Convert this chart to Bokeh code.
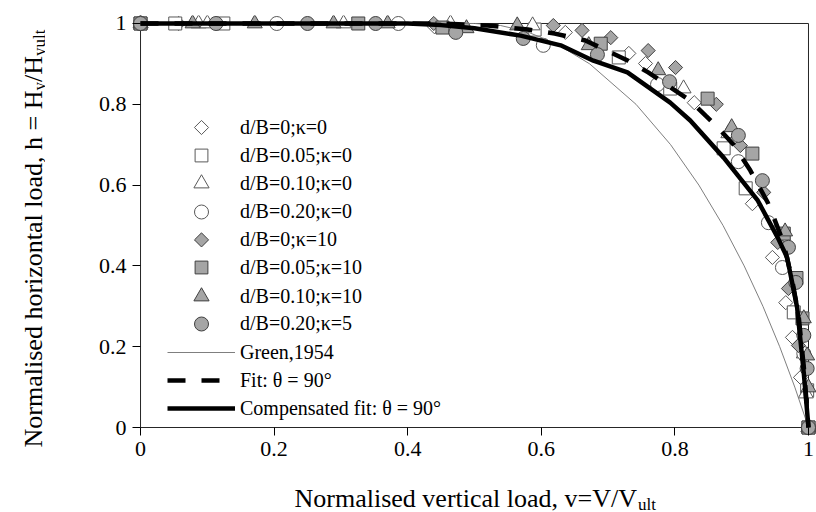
import math
from bokeh.plotting import figure
from bokeh.models import Range1d, FixedTicker, Label, Legend, LegendItem
from bokeh.layouts import row, column
from bokeh.embed import file_html
from bokeh.resources import INLINE

# ---------------- data ----------------
tick_values = [0.0, 0.2, 0.4, 0.6, 0.8, 1.0]
tick_labels = ["0", "0.2", "0.4", "0.6", "0.8", "1"]

series_names = ["d/B=0;\u03ba=0", "d/B=0.05;\u03ba=0", "d/B=0.10;\u03ba=0", "d/B=0.20;\u03ba=0",
                "d/B=0;\u03ba=10", "d/B=0.05;\u03ba=10", "d/B=0.10;\u03ba=10", "d/B=0.20;\u03ba=5"]
line_names = ["Green,1954", "Fit: \u03b8 = 90\u00b0", "Compensated fit: \u03b8 = 90\u00b0"]

v_db0_k0 = [0.0, 0.057, 0.44, 0.636, 0.731, 0.756, 0.829, 0.916, 0.946, 0.966, 0.976, 0.988, 1.0]
h_db0_k0 = [1.0, 1.0, 0.992, 0.978, 0.926, 0.901, 0.804, 0.554, 0.421, 0.309, 0.223, 0.124, 0.0]

v_db005_k0 = [0.0, 0.052, 0.124, 0.59, 0.716, 0.793, 0.873, 0.906, 0.978, 0.998, 1.0]
h_db005_k0 = [1.0, 1.0, 1.0, 0.985, 0.916, 0.839, 0.691, 0.592, 0.285, 0.092, 0.0]

v_db010_k0 = [0.0, 0.087, 0.10, 0.304, 0.464, 0.587, 0.813, 0.88, 0.993, 0.996, 1.0]
h_db010_k0 = [1.0, 1.0, 1.0, 1.0, 1.0, 0.995, 0.839, 0.728, 0.183, 0.084, 0.0]

v_db020_k0 = [0.0, 0.204, 0.386, 0.603, 0.774, 0.895, 0.940, 0.961, 0.993, 1.0]
h_db020_k0 = [1.0, 1.0, 1.0, 0.946, 0.849, 0.658, 0.507, 0.396, 0.183, 0.0]

v_db0_k10 = [0.0, 0.439, 0.618, 0.661, 0.704, 0.760, 0.801, 0.862, 0.898, 0.933, 0.954, 0.970, 0.985, 1.0]
h_db0_k10 = [1.0, 1.0, 0.995, 0.983, 0.965, 0.933, 0.891, 0.800, 0.698, 0.582, 0.458, 0.344, 0.203, 0.0]

v_db005_k10 = [0.0, 0.326, 0.452, 0.689, 0.849, 0.916, 0.963, 0.982, 0.991, 1.0]
h_db005_k10 = [1.0, 1.0, 0.99, 0.950, 0.814, 0.678, 0.48, 0.37, 0.27, 0.0]

v_db010_k10 = [0.0, 0.078, 0.171, 0.289, 0.37, 0.488, 0.564, 0.671, 0.775, 0.885, 0.965, 0.993, 0.998, 1.0, 1.0]
h_db010_k10 = [1.0, 1.0, 1.0, 1.0, 1.0, 0.988, 0.995, 0.946, 0.884, 0.743, 0.485, 0.27, 0.178, 0.099, 0.0]

v_db020_k5 = [0.0, 0.113, 0.25, 0.352, 0.472, 0.573, 0.684, 0.792, 0.895, 0.931, 0.970, 0.981, 0.993, 0.998, 1.0]
h_db020_k5 = [1.0, 1.0, 1.0, 1.0, 0.978, 0.963, 0.923, 0.856, 0.723, 0.611, 0.446, 0.359, 0.228, 0.146, 0.0]

green_v = [0.0, 0.5, 0.539, 0.578, 0.6225, 0.6725, 0.7418, 0.7936, 0.8359, 0.8721, 0.9037, 0.9318, 0.9569, 0.9795, 1.0]
green_h = [1.0, 1.0, 0.995, 0.98, 0.95, 0.9, 0.8, 0.7, 0.6, 0.5, 0.4, 0.3, 0.2, 0.1, 0.0]

fit_v = [0.0, 0.45, 0.52, 0.58, 0.62, 0.666, 0.73, 0.76, 0.823, 0.846, 0.861, 0.888, 0.913, 0.939, 0.948, 0.962, 0.975, 0.985, 0.993, 1.0]
fit_h = [1.0, 1.0, 0.995, 0.985, 0.975, 0.958, 0.908, 0.879, 0.809, 0.772, 0.748, 0.70, 0.636, 0.557, 0.52, 0.46, 0.37, 0.28, 0.15, 0.0]

comp_v = [0.0, 0.40, 0.45, 0.50, 0.569, 0.629, 0.678, 0.729, 0.793, 0.823, 0.873, 0.924, 0.954, 0.968, 0.983, 0.993, 1.0]
comp_h = [1.0, 1.0, 0.996, 0.988, 0.97, 0.946, 0.908, 0.879, 0.804, 0.760, 0.668, 0.562, 0.47, 0.421, 0.297, 0.134, 0.0]

# ---------------- layout constants (canvas px) ----------------
FONT = "Liberation Serif"
W, H = 816, 512
YT_W = 45                 # strip holding the y-axis title
XT_H = 42                 # strip holding the x-axis title
PW, PH = W - YT_W, H - XT_H
BL, BR, BT, BB = 132 - YT_W, 0, 15, 35
PAD_X = 0.012
PAD_Y = 0.0198
FRAME_BOTTOM = PH - BB    # 435
FRAME_LEFT = 132
PX_PER_X = (W - FRAME_LEFT) / (1 + 2 * PAD_X)
PX_PER_Y = (FRAME_BOTTOM - BT) / (1 + 2 * PAD_Y)


def no_align(f):
    if "frame_align" in f.properties():
        f.frame_align = False
    return f


p = figure(width=PW, height=PH, output_backend="svg", toolbar_location=None,
           x_range=Range1d(-PAD_X, 1 + PAD_X), y_range=Range1d(-PAD_Y, 1 + PAD_Y),
           min_border_left=BL, min_border_right=BR, min_border_top=BT, min_border_bottom=BB)
no_align(p)
p.grid.visible = False
p.outline_line_color = None
p.background_fill_color = "white"
p.border_fill_color = "white"

for ax in (p.xaxis[0], p.yaxis[0]):
    ax.ticker = FixedTicker(ticks=tick_values)
    ax.major_label_overrides = {t: l for t, l in zip(tick_values, tick_labels)}
    ax.axis_line_color = None
    ax.major_tick_in = 8
    ax.major_tick_out = 0
    ax.major_tick_line_color = "black"
    ax.major_tick_line_width = 1
    ax.minor_tick_line_color = None
    ax.major_label_text_font = FONT
    ax.major_label_text_font_size = "22px"
    ax.major_label_text_color = "black"
p.xaxis[0].major_label_standoff = 6
p.yaxis[0].major_label_standoff = 6

# plot-area box (axis lines + border) at the axis limits
lo, hi = tick_values[0], tick_values[-1]
p.segment(x0=[lo, hi, hi, lo], y0=[lo, lo, hi, hi], x1=[hi, hi, lo, lo], y1=[lo, hi, hi, lo],
          line_color="#262626", line_width=1)

OPEN_FILL, OPEN_LINE = "white", "#595959"
FILL, FILL_LINE = "#a5a5a5", "#404040"
D = math.pi / 4
specs = [
    (v_db0_k0, h_db0_k0, "square", D, 10, OPEN_FILL, OPEN_LINE),
    (v_db005_k0, h_db005_k0, "square", 0, 13, OPEN_FILL, OPEN_LINE),
    (v_db010_k0, h_db010_k0, "triangle", 0, 15, OPEN_FILL, OPEN_LINE),
    (v_db020_k0, h_db020_k0, "circle", 0, 14, OPEN_FILL, OPEN_LINE),
    (v_db0_k10, h_db0_k10, "square", D, 10, FILL, FILL_LINE),
    (v_db005_k10, h_db005_k10, "square", 0, 13, FILL, FILL_LINE),
    (v_db010_k10, h_db010_k10, "triangle", 0, 15, FILL, FILL_LINE),
    (v_db020_k5, h_db020_k5, "circle", 0, 14, FILL, FILL_LINE),
]
marker_renderers = []
for vx, hy, mk, ang, sz, fc, lc in specs:
    r = p.scatter(vx, hy, marker=mk, angle=ang, size=sz, fill_color=fc, line_color=lc, line_width=1)
    marker_renderers.append((r, mk, sz, ang, fc, lc))

r_green = p.line(green_v, green_h, line_color="#7f7f7f", line_width=1)
r_fit = p.line(fit_v, fit_h, line_color="black", line_width=4.5, line_dash="18 16")
r_comp = p.line(comp_v, comp_h, line_color="black", line_width=4.5)

# ---------------- legends ----------------
ROW0, STEP = 127, 28.1
LEG_X = 35                # from frame left to legend glyph start
GLYPH_W = 68
swatch_x, swatch_y, swatch_fc, swatch_lc = [], [], [], []
for i, ((r, mk, sz, ang, fc, lc), name) in enumerate(zip(marker_renderers, series_names)):
    yc = ROW0 + STEP * i
    if ang:
        # Bokeh legends draw markers un-rotated; use a blank legend glyph and draw the
        # rotated-square swatch at the legend row position.
        r_leg = p.scatter([], [], marker="circle", size=1, fill_alpha=0, line_alpha=0)
        gh = 28
        swatch_x.append((LEG_X + GLYPH_W / 2) / PX_PER_X - PAD_X)
        swatch_y.append((FRAME_BOTTOM - yc) / PX_PER_Y - PAD_Y)
        swatch_fc.append(fc)
        swatch_lc.append(lc)
    else:
        r_leg = r
        gh = int(round(sz / 0.4))
    leg = Legend(items=[LegendItem(label=name, renderers=[r_leg])],
                 location=(LEG_X, int(round(FRAME_BOTTOM - (yc + gh / 2)))),
                 glyph_width=GLYPH_W, glyph_height=gh, label_height=gh, spacing=0,
                 padding=0, margin=0, border_line_color=None, background_fill_alpha=0,
                 label_text_font=FONT, label_text_font_size="20px", label_standoff=5,
                 label_text_color="black")
    p.add_layout(leg)

p.scatter(swatch_x, swatch_y, marker="square", angle=D, size=10,
          fill_color=swatch_fc, line_color=swatch_lc, line_width=1)

yc_lines = ROW0 + STEP * 8
lh = 28
leg_lines = Legend(items=[LegendItem(label=n, renderers=[r]) for n, r in zip(line_names, [r_green, r_fit, r_comp])],
                   location=(LEG_X, int(round(FRAME_BOTTOM - (yc_lines - lh / 2 + 3 * lh)))),
                   glyph_width=GLYPH_W, glyph_height=lh, label_height=lh, spacing=0,
                   padding=0, margin=0, border_line_color=None, background_fill_alpha=0,
                   label_text_font=FONT, label_text_font_size="20px", label_standoff=5,
                   label_text_color="black")
p.add_layout(leg_lines)

# ---------------- axis titles (with subscripts) in their own strips ----------------
TS, SS = "26px", "17px"


def strip(w, h):
    f = figure(width=w, height=h, output_backend="svg", toolbar_location=None,
               x_range=Range1d(0, 1), y_range=Range1d(0, 1), x_axis_type=None, y_axis_type=None,
               min_border=0)
    no_align(f)
    f.outline_line_color = None
    f.background_fill_color = "white"
    f.border_fill_color = "white"
    return f


def lab(ox, oy, hgt, cx, cy, text, size, align, angle=0.0):
    # cx, cy: canvas px of the whole page; (ox, oy) strip origin; hgt strip height
    return Label(x=cx - ox, y=(oy + hgt) - cy, x_units="screen", y_units="screen",
                 text=text, text_align=align, text_baseline="alphabetic", angle=angle,
                 text_font=FONT, text_font_size=size, text_color="black")


xt = strip(PW, XT_H)
xt.add_layout(lab(YT_W, PH, XT_H, 636.5, 498, "Normalised vertical load, v=V/V", TS, "right"))
xt.add_layout(lab(YT_W, PH, XT_H, 637.5, 504, "ult", SS, "left"))

yt = strip(YT_W, H)
A = math.pi / 2
yt.add_layout(lab(0, 0, H, 33, 90, "Normalised horizontal load, h = H", TS, "right", A))
yt.add_layout(lab(0, 0, H, 39, 90, "y", SS, "left", A))
yt.add_layout(lab(0, 0, H, 33, 81.5, "/H", TS, "left", A))
yt.add_layout(lab(0, 0, H, 39, 55.5, "yult", SS, "left", A))

page = row(yt, column(p, xt))
open("out.html", "w").write(file_html(page, INLINE))
